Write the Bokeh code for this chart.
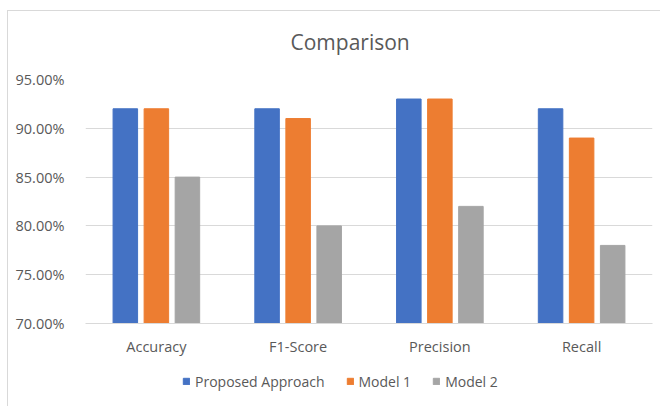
from bokeh.plotting import figure
from bokeh.layouts import column
from bokeh.models import (FactorRange, Range1d, FixedTicker, PrintfTickFormatter,
                          Legend, LegendItem, ColumnDataSource)
from bokeh.transform import dodge
from bokeh.embed import file_html
from bokeh.resources import INLINE

categories = ["Accuracy", "F1-Score", "Precision", "Recall"]
series_names = ["Proposed Approach", "Model 1", "Model 2"]
proposed = [92, 92, 93, 92]
model1 = [92, 91, 93, 89]
model2 = [85, 80, 82, 78]
y_ticks = [70, 75, 80, 85, 90, 95]
colors = ["#4472C4", "#ED7D31", "#A5A5A5"]

FONT = "Open Sans"
TXT = "#595959"
keys = ["proposed", "model1", "model2"]

src = ColumnDataSource(dict(cat=categories, proposed=proposed, model1=model1, model2=model2))

p = figure(width=660, height=358,
           x_range=FactorRange(*categories, range_padding=0),
           y_range=Range1d(70, 95),
           output_backend="svg", toolbar_location=None,
           min_border_left=85, min_border_right=8, min_border_top=79, min_border_bottom=34)
p.border_fill_alpha = 0
p.background_fill_alpha = 0

for key, off, col in zip(keys, [-0.219, 0.0, 0.219], colors):
    p.vbar(x=dodge("cat", off, range=p.x_range), top=key, bottom=p.y_range.start,
           width=0.173, source=src, fill_color=col, line_color=col)

p.title.text = "Comparison"
p.title.text_font = FONT
p.title.text_font_size = "21px"
p.title.text_font_style = "normal"
p.title.text_color = TXT
p.title.align = "left"
p.title.offset = 205
p.title.standoff = 48

p.outline_line_color = None
p.xgrid.grid_line_color = None
p.ygrid.grid_line_color = "#d9d9d9"
p.ygrid.grid_line_width = 1

p.yaxis.ticker = FixedTicker(ticks=y_ticks)
p.yaxis.formatter = PrintfTickFormatter(format="%.2f%%")
p.yaxis.axis_line_color = None
p.yaxis.major_tick_line_color = None
p.yaxis.minor_tick_line_color = None
p.yaxis.major_label_standoff = 15
p.yaxis.major_label_text_font = FONT
p.yaxis.major_label_text_font_size = "14.5px"
p.yaxis.major_label_text_color = TXT

p.xaxis.axis_line_color = "#d9d9d9"
p.xaxis.major_tick_line_color = None
p.xaxis.minor_tick_line_color = None
p.xaxis.major_tick_out = 0
p.xaxis.major_label_standoff = 13
p.xaxis.major_label_text_font = FONT
p.xaxis.major_label_text_font_size = "14.5px"
p.xaxis.major_label_text_color = TXT

# legend strip below the chart (its frame is aligned with the chart's frame)
lf = figure(width=660, height=48, x_axis_type=None, y_axis_type=None,
            x_range=p.x_range, y_range=p.y_range,
            output_backend="svg", toolbar_location=None,
            min_border_left=85, min_border_right=8, min_border_top=0, min_border_bottom=0)
lf.border_fill_alpha = 0
lf.background_fill_alpha = 0
lf.outline_line_color = None
lf.xgrid.grid_line_color = None
lf.ygrid.grid_line_color = None
lrs = [lf.vbar(x="cat", top=k, width=0.173, source=src, fill_color=c, line_color=c, visible=False)
       for k, c in zip(keys, colors)]

legend = Legend(items=[LegendItem(label=n, renderers=[r]) for n, r in zip(series_names, lrs)],
                orientation="horizontal", location=(97, 15),
                glyph_width=8, glyph_height=8, label_standoff=5, spacing=21,
                padding=0, margin=0, border_line_color=None, background_fill_alpha=0,
                inactive_fill_alpha=0,
                label_text_font=FONT, label_text_font_size="14px", label_text_color=TXT,
                label_height=20)
lf.add_layout(legend, "center")

layout = column(p, lf, spacing=0)
layout.styles = {
    "background-image": "linear-gradient(#d9d9d9, #d9d9d9), linear-gradient(#d9d9d9, #d9d9d9)",
    "background-size": "100% 1px, 1px 100%",
    "background-position": "7px 10px, 7px 10px",
    "background-repeat": "no-repeat",
}

open("out.html", "w").write(file_html(layout, INLINE))
